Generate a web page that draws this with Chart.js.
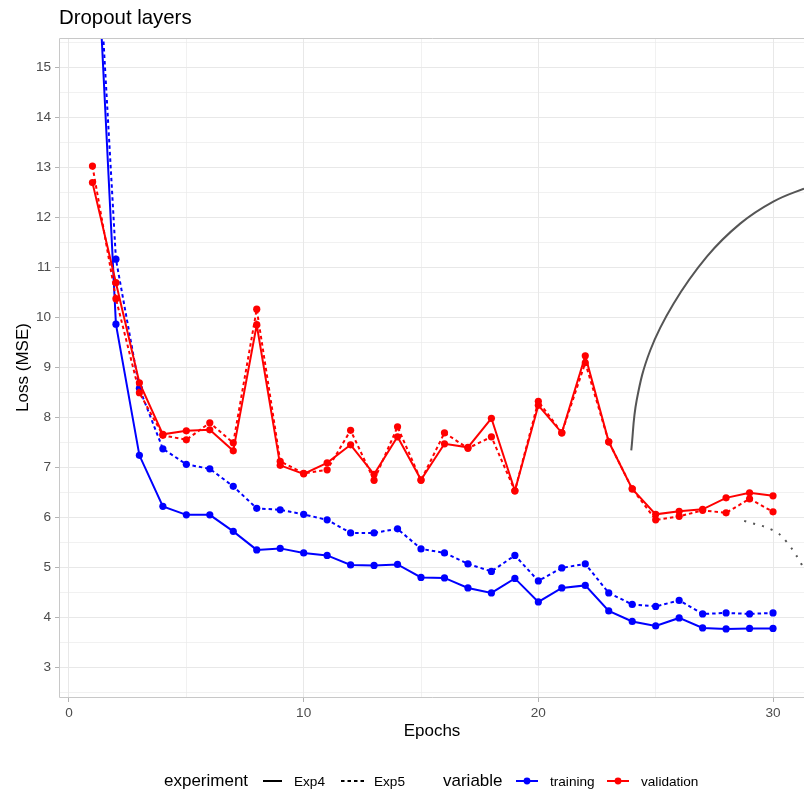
<!DOCTYPE html>
<html lang="en">
<head>
<meta charset="utf-8">
<title>Dropout layers</title>
<script src="https://cdn.jsdelivr.net/npm/chart.js@4/dist/chart.umd.min.js"></script>
<style>
    body { margin: 0; background: #ffffff; }
    #grafico-dropout { display: block; }
</style>
</head>
<body>
<canvas id="grafico-dropout" width="804" height="790"></canvas>
<script>
// Dados das curvas de perda por época

const epocas = [1, 2, 3, 4, 5, 6, 7, 8, 9, 10, 11, 12, 13, 14, 15, 16, 17, 18, 19, 20, 21, 22, 23, 24, 25, 26, 27, 28, 29, 30];

const treinoExp4 = [19.3, 9.86, 7.24, 6.22, 6.05, 6.05, 5.72, 5.35, 5.38, 5.29, 5.24, 5.05, 5.04, 5.06, 4.80, 4.79, 4.59, 4.49, 4.78, 4.31, 4.59, 4.64, 4.13, 3.92, 3.83, 3.99, 3.79, 3.77, 3.78, 3.78];
const treinoExp5 = [19.4, 11.16, 8.58, 7.37, 7.06, 6.97, 6.62, 6.18, 6.15, 6.06, 5.95, 5.69, 5.69, 5.77, 5.37, 5.29, 5.07, 4.92, 5.24, 4.73, 4.99, 5.07, 4.49, 4.26, 4.22, 4.34, 4.07, 4.09, 4.07, 4.09];
const validacaoExp4 = [12.69, 10.69, 8.69, 7.66, 7.73, 7.75, 7.33, 9.85, 7.04, 6.87, 7.09, 7.45, 6.86, 7.61, 6.75, 7.47, 7.40, 7.98, 6.53, 8.24, 7.69, 9.23, 7.51, 6.57, 6.06, 6.12, 6.16, 6.39, 6.49, 6.43];
const validacaoExp5 = [13.02, 10.37, 8.49, 7.64, 7.55, 7.89, 7.49, 10.16, 7.12, 6.88, 6.95, 7.74, 6.74, 7.81, 6.74, 7.69, 7.38, 7.61, 6.53, 8.32, 7.69, 9.09, 7.51, 6.57, 5.95, 6.02, 6.14, 6.09, 6.37, 6.11];

// Curvas cinza (contínua e pontilhada) no canto direito
const arcoContinuoX = [23.96, 24.19, 24.77, 25.76, 27.18, 28.6, 30.01, 31.32, 32.0];
const arcoContinuoY = [7.34, 8.34, 9.34, 10.27, 11.21, 11.87, 12.31, 12.57, 12.68];
const arcoPontilhadoX = [28.77, 30.01, 30.58, 31.28, 31.6];
const arcoPontilhadoY = [5.93, 5.74, 5.51, 5.01, 4.7];

// Marcas dos eixos
const ticksX = [0, 5, 10, 15, 20, 25, 30];
const ticksY = [2.5, 3, 3.5, 4, 4.5, 5, 5.5, 6, 6.5, 7, 7.5, 8, 8.5, 9, 9.5, 10, 10.5, 11, 11.5, 12, 12.5, 13, 13.5, 14, 14.5, 15, 15.5];

const FONTE = '"Liberation Sans", Arial, Helvetica, sans-serif';
const AZUL = '#0000ff';
const VERMELHO = '#ff0000';
const CINZA = '#555555';
const TRACEJADO = [3.5, 3];

document.addEventListener('DOMContentLoaded', function() {
    criarGraficoDropout();
});

// Junta x e y em pontos para a escala linear
function pontos(xs, ys) {
    return xs.map((x, i) => ({ x: x, y: ys[i] }));
}

function serie(valores, cor, tracejado) {
    return {
        data: pontos(epocas, valores),
        borderColor: cor,
        backgroundColor: cor,
        borderWidth: 2,
        borderDash: tracejado ? TRACEJADO : [],
        pointRadius: 3.6,
        pointBorderWidth: 0,
        pointBackgroundColor: cor,
        tension: 0
    };
}

// Título, títulos dos eixos, borda do painel e legenda
const pluginExtras = {
    id: 'extras',
    afterDraw(chart) {
        const c = chart.ctx;
        const area = chart.chartArea;
        c.save();

        // borda do painel
        c.strokeStyle = '#c8c8c8';
        c.lineWidth = 1;
        c.setLineDash([]);
        c.beginPath();
        c.moveTo(area.right + 2, area.top + 0.5);
        c.lineTo(area.left - 0.5, area.top + 0.5);
        c.lineTo(area.left - 0.5, area.bottom + 0.5);
        c.lineTo(area.right + 2, area.bottom + 0.5);
        c.stroke();

        // título
        c.fillStyle = '#000000';
        c.textBaseline = 'alphabetic';
        c.textAlign = 'left';
        c.font = '20.4px ' + FONTE;
        c.fillText('Dropout layers', 59, 24);

        // títulos dos eixos
        c.font = '17px ' + FONTE;
        c.textAlign = 'center';
        c.fillText('Epochs', (area.left + area.right) / 2, 736);
        c.save();
        c.translate(28, (area.top + area.bottom) / 2);
        c.rotate(-Math.PI / 2);
        c.fillText('Loss (MSE)', 0, 0);
        c.restore();

        // legenda
        const yLeg = 781;
        const base = 786;
        c.textAlign = 'left';
        c.font = '17px ' + FONTE;
        c.fillText('experiment', 164, base);
        c.fillText('variable', 443, base);

        c.font = '13.6px ' + FONTE;
        c.fillText('Exp4', 294, base);
        c.fillText('Exp5', 374, base);
        c.fillText('training', 550, base);
        c.fillText('validation', 641, base);

        c.lineWidth = 2;
        c.strokeStyle = '#000000';
        c.beginPath();
        c.moveTo(263, yLeg);
        c.lineTo(282, yLeg);
        c.stroke();

        c.setLineDash(TRACEJADO);
        c.beginPath();
        c.moveTo(341, yLeg);
        c.lineTo(364, yLeg);
        c.stroke();
        c.setLineDash([]);

        [[516, AZUL], [607, VERMELHO]].forEach(function(item) {
            const x0 = item[0];
            c.strokeStyle = item[1];
            c.fillStyle = item[1];
            c.beginPath();
            c.moveTo(x0, yLeg);
            c.lineTo(x0 + 22, yLeg);
            c.stroke();
            c.beginPath();
            c.arc(x0 + 11, yLeg, 3.4, 0, Math.PI * 2);
            c.fill();
        });

        c.restore();
    }
};

function criarGraficoDropout() {
    const ctx = document.getElementById('grafico-dropout');

    if (ctx) {
        new Chart(ctx, {
            type: 'line',
            data: {
                datasets: [
                    serie(validacaoExp4, VERMELHO, false),
                    serie(validacaoExp5, VERMELHO, true),
                    serie(treinoExp4, AZUL, false),
                    serie(treinoExp5, AZUL, true),
                    {
                        data: pontos(arcoContinuoX, arcoContinuoY),
                        borderColor: CINZA,
                        borderWidth: 2,
                        pointRadius: 0,
                        tension: 0.4
                    },
                    {
                        data: pontos(arcoPontilhadoX, arcoPontilhadoY),
                        borderColor: CINZA,
                        borderWidth: 2,
                        borderDash: [2, 7.3],
                        pointRadius: 0,
                        tension: 0.4
                    }
                ]
            },
            options: {
                responsive: false,
                animation: false,
                devicePixelRatio: 1,
                layout: {
                    // sem folga automática: o painel continua além da borda direita
                    autoPadding: false,
                    padding: { left: 0, right: 0, top: 38, bottom: 63 }
                },
                plugins: {
                    legend: { display: false },
                    title: { display: false },
                    tooltip: { enabled: false }
                },
                scales: {
                    x: {
                        type: 'linear',
                        min: -0.383,
                        max: 31.32,
                        afterBuildTicks: function(escala) {
                            escala.ticks = ticksX.map(v => ({ value: v }));
                        },
                        afterFit: function(escala) {
                            escala.height = 30;
                            escala.paddingLeft = 0;
                            escala.paddingRight = 0;
                        },
                        border: { display: false },
                        grid: {
                            color: '#e8e8e8',
                            lineWidth: c => (c.tick && c.tick.value % 10 === 0) ? 1 : 0.6,
                            tickColor: c => (c.tick && c.tick.value % 10 === 0) ? '#b3b3b3' : 'rgba(0,0,0,0)',
                            tickLength: 5
                        },
                        ticks: {
                            autoSkip: false,
                            maxRotation: 0,
                            padding: 3,
                            color: '#4d4d4d',
                            font: { family: FONTE, size: 13.6 },
                            callback: v => (v % 10 === 0) ? String(v) : ''
                        }
                    },
                    y: {
                        type: 'linear',
                        min: 2.41,
                        max: 15.58,
                        afterBuildTicks: function(escala) {
                            escala.ticks = ticksY.map(v => ({ value: v }));
                        },
                        afterFit: function(escala) {
                            escala.width = 60;
                        },
                        border: { display: false },
                        grid: {
                            color: '#e8e8e8',
                            lineWidth: c => (c.tick && Number.isInteger(c.tick.value)) ? 1 : 0.6,
                            tickColor: c => (c.tick && Number.isInteger(c.tick.value)) ? '#b3b3b3' : 'rgba(0,0,0,0)',
                            tickLength: 5
                        },
                        ticks: {
                            autoSkip: false,
                            padding: 4,
                            color: '#4d4d4d',
                            font: { family: FONTE, size: 13.6 },
                            callback: v => Number.isInteger(v) ? String(v) : ''
                        }
                    }
                }
            },
            plugins: [pluginExtras]
        });
    }
}
</script>
</body>
</html>
